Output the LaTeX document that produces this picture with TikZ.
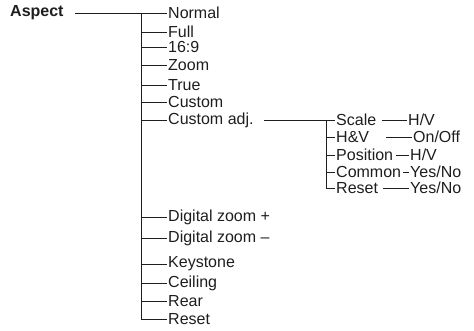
\documentclass[tikz,border=0pt]{standalone}
\usepackage{fontspec}
\setmainfont{Liberation Sans}
\usetikzlibrary{positioning,calc}
\definecolor{mnink}{HTML}{1E1E1E}
\tikzset{
  mnitem/.style={anchor=west, inner sep=1pt, text=mnink,
                 font=\fontsize{16}{18}\selectfont},
  mnhead/.style={mnitem, font=\fontsize{16}{18}\selectfont\bfseries},
  mnval/.style={mnitem},
  mnline/.style={draw=mnink, line width=0.8pt},
}

\begin{document}
\begin{tikzpicture}[x=1pt,y=-1pt]
  \useasboundingbox (0,0) rectangle (474,330);
  \node[mnhead] (aspect) at (9,13) {Aspect};
  \coordinate (aspecttail) at (75,13);
  \coordinate (trunk) at (141,13);
  \draw[mnline] (aspecttail) -- (trunk);

  % first level
  \foreach \nm/\yy/\txt in {normal/13/Normal, full/32/Full, wide/47/16:9,
      zoom/65/Zoom, true/85/True, custom/102/Custom, customadj/120/Custom adj.,
      dzoomin/217/Digital zoom +, dzoomout/238/Digital zoom \textendash,
      keystone/264/Keystone, ceiling/283/Ceiling, rear/301/Rear, reset/319/Reset}
    {\node[mnitem] (\nm) at (167,\yy) {\txt};
     \draw[mnline] (trunk |- \nm.west) -- (\nm.west);}
  \draw[mnline] (trunk) |- (reset.west);

  % Custom adj. submenu
  \coordinate (subtrunk) at (326,120);
  \foreach \nm/\yy/\txt in {scale/120/Scale, hv/137/H\&V, position/155/Position,
      common/172/Common, subreset/188/Reset}
    {\node[mnitem] (\nm) at (335,\yy) {\txt};
     \draw[mnline] (subtrunk |- \nm.west) -- (\nm.west);}
  \draw[mnline] (customadj.east) ++(9,0) -- (subtrunk);
  \draw[mnline] (subtrunk) |- (subreset.west);

  \node[mnval] (scaleval)    at (407,120) {H/V};
  \node[mnval] (hvval)       at (412,137) {On/Off};
  \node[mnval] (positionval) at (409,155) {H/V};
  \node[mnval] (commonval)   at (409,172) {Yes/No};
  \node[mnval] (resetval)    at (409,188) {Yes/No};
  \draw[mnline] (scale.east) ++(5,0) -- (scaleval.west);
  \draw[mnline] (hv.east) ++(16,0) -- (hvval.west);
  \draw[mnline] (position.east) ++(2,0) -- (positionval.west);
  \draw[mnline] (common.east) ++(1,0) -- (commonval.west);
  \draw[mnline] (subreset.east) ++(4,0) -- (resetval.west);
\end{tikzpicture}
\end{document}
